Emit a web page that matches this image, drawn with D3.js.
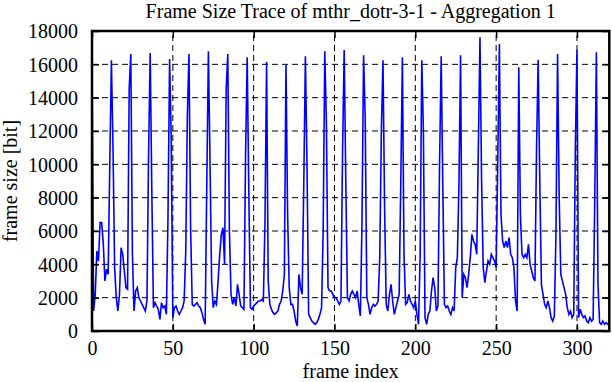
<!DOCTYPE html>
<html>
<head>
<meta charset="utf-8">
<script src="https://cdn.jsdelivr.net/npm/d3@7"></script>
<style>
  html, body { margin: 0; padding: 0; background: #fff; }
  svg { display: block; }
  text { font-family: "Liberation Serif", "Times New Roman", serif; fill: #000; }
</style>
</head>
<body>
<svg id="chart" width="612" height="382"></svg>
<script>
// ---- data ----
const chartTitle = "Frame Size Trace of mthr_dotr-3-1 - Aggregation 1";
const xLabel = "frame index";
const yLabel = "frame size [bit]";
const xTicks = [0, 50, 100, 150, 200, 250, 300];
const yTicks = [0, 2000, 4000, 6000, 8000, 10000, 12000, 14000, 16000, 18000];
const xDomain = [0, 320];
const yDomain = [0, 18000];
// frame sizes in bit, frame index = position in array (one row per 12-frame GOP)
const frameSizes = [
  16400, 1200, 2200, 4800, 4200, 6500, 6500, 5200, 3000, 3700, 3400, 10000,
  16240, 11000, 3800, 2000, 1200, 2200, 5000, 4600, 3600, 2600, 2500, 14500,
  16620, 4600, 1200, 2400, 2600, 2000, 1800, 1600, 1400, 1200, 1800, 10600,
  16680, 8400, 1400, 1700, 1500, 1300, 700, 1700, 1400, 1500, 1000, 6800,
  16320, 11500, 800, 1400, 1500, 1200, 1000, 1200, 1400, 1800, 4800, 13000,
  16620, 6200, 1600, 1500, 1600, 1700, 1500, 1400, 1100, 700, 400, 8800,
  16780, 10200, 3000, 1400, 1800, 1600, 3000, 4600, 5800, 6200, 4000, 14500,
  16620, 6000, 2200, 1600, 2000, 1500, 2800, 2200, 1500, 1400, 1300, 10600,
  16420, 8400, 1400, 1300, 1500, 1600, 1700, 1800, 1800, 1900, 1800, 6500,
  16140, 3000, 1600, 1300, 1100, 1000, 1100, 1200, 1600, 1800, 2400, 3400,
  16020, 7000, 2600, 1600, 1600, 1200, 600, 300, 3400, 2600, 2200, 8800,
  16480, 10000, 1000, 800, 600, 500, 400, 500, 700, 1000, 1400, 6000,
  16780, 12500, 2600, 2400, 2400, 2200, 2000, 2000, 1800, 1600, 1800, 10800,
  16860, 9000, 2000, 1800, 2200, 2400, 2200, 2000, 2400, 1600, 900, 6400,
  16540, 12800, 2000, 1600, 1000, 1400, 1600, 1500, 1600, 1800, 4400, 12000,
  16240, 7400, 1600, 1200, 2200, 2800, 1800, 1000, 1400, 1800, 2200, 8800,
  16420, 4600, 1600, 1700, 2200, 1800, 1600, 1400, 1800, 1000, 400, 4600,
  16240, 12000, 800, 400, 1000, 1200, 2400, 3200, 2600, 1200, 1500, 10000,
  16480, 8800, 1600, 1400, 1500, 1200, 1000, 1400, 1200, 3800, 4400, 8800,
  16540, 2000, 3400, 3200, 2600, 3400, 4400, 5800, 5400, 5200, 4600, 11000,
  17620, 9000, 3800, 2900, 3600, 4200, 4000, 4600, 4400, 4200, 3800, 10200,
  17220, 7000, 5400, 5000, 5400, 5000, 5600, 4600, 4400, 3800, 1800, 1200,
  15820, 7000, 4600, 4400, 4600, 4400, 5200, 4000, 3600, 3200, 3000, 11000,
  16280, 9000, 2800, 2200, 1600, 1400, 1800, 1400, 800, 600, 900, 5800,
  16620, 8000, 3400, 3000, 2600, 2200, 1400, 1000, 1200, 800, 1000, 11000,
  16880, 800, 1300, 1000, 800, 900, 600, 500, 800, 600, 700, 7800,
  16720, 2800, 500, 400, 600, 400, 500, 400, 350
];

// ---- layout ----
const margin = { left: 92, right: 2.7, top: 31, bottom: 51 };
const W = 612, H = 382;
const svg = d3.select("#chart");
const x = d3.scaleLinear().domain(xDomain).range([margin.left, W - margin.right]);
const y = d3.scaleLinear().domain(yDomain).range([H - margin.bottom, margin.top]);
const x0 = x.range()[0], x1 = x.range()[1], y0 = y.range()[0], y1 = y.range()[1];
const fontSize = 20;
const tickLen = 7;

// grid
const grid = svg.append("g");
grid.selectAll("line.gx").data(xTicks.filter(d => d > xDomain[0] && d < xDomain[1]))
  .join("line").attr("x1", d => x(d)).attr("x2", d => x(d)).attr("y1", y0).attr("y2", y1)
  .attr("stroke", "#000").attr("stroke-width", 1).attr("stroke-dasharray", "6,4");
grid.selectAll("line.gy").data(yTicks.filter(d => d > yDomain[0] && d < yDomain[1]))
  .join("line").attr("y1", d => y(d)).attr("y2", d => y(d)).attr("x1", x0).attr("x2", x1)
  .attr("stroke", "#000").attr("stroke-width", 1).attr("stroke-dasharray", "6,4");

// data line
const line = d3.line().x((d, i) => x(i)).y(d => y(d));
svg.append("path").datum(frameSizes)
  .attr("d", line).attr("fill", "none").attr("stroke", "#0000ff")
  .attr("stroke-width", 1.6).attr("stroke-linejoin", "miter");

// axes with inward ticks, mirrored
const axB = d3.axisBottom(x).tickValues(xTicks).tickSize(-tickLen).tickPadding(10).tickFormat(d3.format("d"));
const axT = d3.axisTop(x).tickValues(xTicks).tickSize(-tickLen).tickFormat("");
const axL = d3.axisLeft(y).tickValues(yTicks).tickSize(-tickLen).tickPadding(14).tickFormat(d3.format("d"));
const axR = d3.axisRight(y).tickValues(yTicks).tickSize(-tickLen).tickFormat("");

function style(g) {
  g.select(".domain").remove();
  g.selectAll(".tick line").attr("stroke", "#000").attr("stroke-width", 1.5);
  g.selectAll(".tick text").attr("font-size", fontSize)
    .attr("font-family", '"Liberation Serif", "Times New Roman", serif').attr("fill", "#000");
}
svg.append("g").attr("transform", `translate(0,${y0})`).call(axB).call(style)
  .selectAll(".tick text").attr("dy", "0.72em");
svg.append("g").attr("transform", `translate(0,${y1})`).call(axT).call(style);
svg.append("g").attr("transform", `translate(${x0},0)`).call(axL).call(style)
  .selectAll(".tick text").attr("dy", "0.34em");
svg.append("g").attr("transform", `translate(${x1},0)`).call(axR).call(style);

// border
svg.append("rect").attr("x", x0).attr("y", y1).attr("width", x1 - x0).attr("height", y0 - y1)
  .attr("fill", "none").attr("stroke", "#000").attr("stroke-width", 2.5);

// texts
svg.append("text").attr("x", (x0 + x1) / 2).attr("y", 18).attr("text-anchor", "middle")
  .attr("font-size", fontSize).text(chartTitle);
svg.append("text").attr("x", (x0 + x1) / 2).attr("y", 378).attr("text-anchor", "middle")
  .attr("font-size", fontSize).text(xLabel);
svg.append("text").attr("transform", `translate(17,${(y0 + y1) / 2}) rotate(-90)`)
  .attr("text-anchor", "middle").attr("font-size", fontSize).text(yLabel);
</script>
</body>
</html>
